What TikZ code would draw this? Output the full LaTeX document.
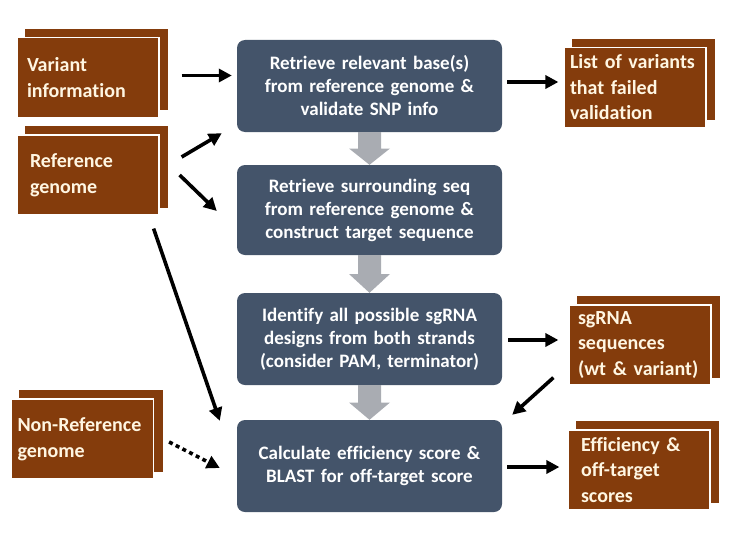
\documentclass[tikz,border=0pt]{standalone}
\usepackage{fontspec}
\setmainfont[Ligatures=NoCommon]{Carlito}
\usetikzlibrary{arrows.meta,shadows,calc}

\definecolor{slate}{HTML}{44546A}
\definecolor{rust}{HTML}{843C0C}
\definecolor{cream}{RGB}{255,246,226}
\definecolor{flowgray}{RGB}{169,172,178}

\begin{document}
\begin{tikzpicture}[
      x=1pt, y=-1pt,
      font=\bfseries,
      st/.style={fill=slate, rounded corners=8pt, text=white, align=center,
                 minimum width=265pt, text width=258pt, inner sep=0pt,
                 font=\fontsize{19}{23}\selectfont\bfseries},
      io/.style={fill=rust, draw=white, line width=1.2pt, text=cream,
                 align=left, minimum width=140pt, minimum height=80pt,
                 text width=130pt, inner xsep=6pt, inner ysep=0pt,
                 copy shadow={shadow xshift=8.5pt, shadow yshift=8pt, draw=rust},
                 font=\fontsize{20}{25.5}\selectfont\bfseries},
      a/.style={-{Triangle[length=13pt,width=13pt]}, line width=3.6pt},
      garr/.style={fill=flowgray},
    ]
    \useasboundingbox (0,0) rectangle (743,543);
    % inputs
    \node[io] (var)    at (88,77.5)   {\hspace*{4pt}Variant\\\hspace*{4pt}information};
    \node[io] (ref)    at (88,175)    {\hspace*{7pt}Reference\\\hspace*{7pt}genome};
    \node[io] (nonref) at (82.5,439)  {Non-Reference\\genome};
    % pipeline steps
    \node[st, minimum height=92pt] (ret)  at (369.5,86)
        {Retrieve relevant base(s)\\from reference genome \&\\validate SNP info};
    \node[st, minimum height=90pt] (tgt)  at (369.5,210)
        {Retrieve surrounding seq\\from reference genome \&\\construct target sequence};
    \node[st, minimum height=92pt] (des)  at (369.5,339)
        {Identify all possible sgRNA\\designs from both strands\\(consider PAM, terminator)};
    \node[st, minimum height=92pt] (calc) at (369.5,466)
        {Calculate efficiency score \&\\BLAST for off-target score};
    % outputs
    \node[io] (fail) at (635,87.5) {List of variants\\that failed\\validation};
    \node[io] (sg)   at (640,345)  {\hspace*{3pt}sgRNA\\\hspace*{3pt}sequences\\\hspace*{3pt}(wt \& variant)};
    \node[io] (eff)  at (639,470)  {\hspace*{7pt}Efficiency \&\\\hspace*{7pt}off-target\\\hspace*{7pt}scores};

    % gray flow arrows
    \foreach \u/\v in {ret/tgt,tgt/des,des/calc}
      \fill[garr] ($(\u.south)+(-11.5,0)$) -- ($(\u.south)!0.5!(\v.north)+(-11.5,0)$)
        -- ($(\u.south)!0.5!(\v.north)+(-20.5,0)$) -- (\v.north)
        -- ($(\u.south)!0.5!(\v.north)+(20.5,0)$) -- ($(\u.south)!0.5!(\v.north)+(11.5,0)$)
        -- ($(\u.south)+(11.5,0)$) -- cycle;

    \draw[a] ([shift={(22,-2)}]var.east)      -- ([shift={(-5,-10.5)}]ret.west);
    \draw[a] ([shift={(22,-18)}]ref.east)     -- ([shift={(-15,1)}]ret.south west);
    \draw[a] ([shift={(20,0)}]ref.east)       -- ([shift={(-20,1)}]tgt.west);
    \draw[a] ([shift={(-6,13)}]ref.south east) -- ([shift={(-17,1)}]calc.north west);
    \draw[a, dash pattern=on 4pt off 3.5pt]
             ([shift={(15,3)}]nonref.east)    -- ([shift={(-17,2)}]calc.west);
    \draw[a] ([shift={(5,-4)}]ret.east)       -- ([shift={(-5,-5.5)}]fail.west);
    \draw[a] ([shift={(6,1)}]des.east)        -- ([shift={(-10,-5)}]sg.west);
    \draw[a] ([shift={(-15,-8)}]sg.south west) -- ([shift={(10,-5)}]calc.north east);
    \draw[a] ([shift={(5,1)}]calc.east)       -- ([shift={(-8,-3)}]eff.west);
  \end{tikzpicture}
\end{document}
